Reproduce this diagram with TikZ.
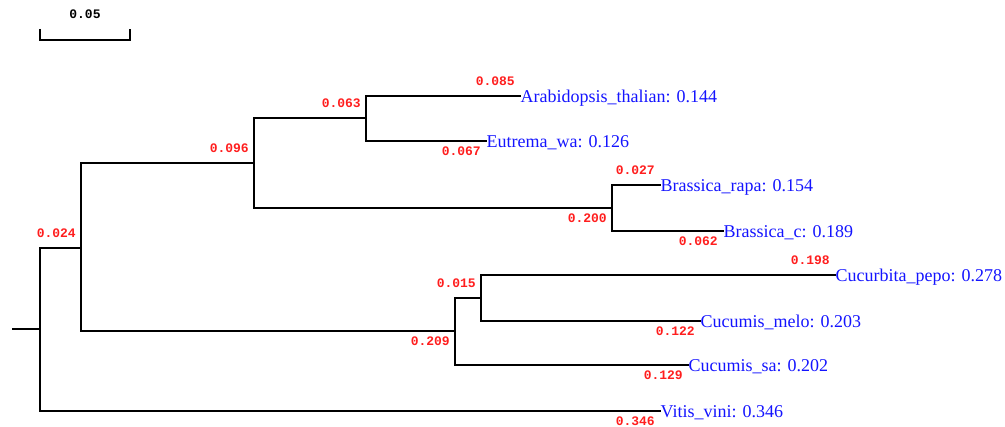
\documentclass[tikz,border=0pt]{standalone}
\usepackage{fontspec}
\setmainfont{Liberation Serif}
\newfontfamily\lenfont{Liberation Mono}
\definecolor{lenred}{RGB}{255,30,30}
\definecolor{leafblue}{RGB}{20,20,255}
\tikzset{
  branch/.style={draw=black, line width=2.4pt, line cap=rect, line join=miter},
  lenabove/.style={anchor=base east, inner sep=0pt, xshift=-4pt, yshift=10pt,
    text=lenred, font=\lenfont\bfseries\fontsize{13}{13}\selectfont},
  lenbelow/.style={anchor=base east, inner sep=0pt, xshift=-4pt, yshift=-15pt,
    text=lenred, font=\lenfont\bfseries\fontsize{13}{13}\selectfont},
  leaflabel/.style={anchor=base west, inner sep=0pt, xshift=0.5pt, yshift=-6.5pt,
    text=leafblue, font=\fontsize{18}{18}\selectfont},
}
\begin{document}
\begin{tikzpicture}[x=1pt, y=-1pt]
\useasboundingbox (0,0) rectangle (1005,427);
% scale bar
\coordinate (sbl) at (40,40);
\coordinate (sbr) at (130,40);
\draw[line width=2.8pt, line join=miter] ([yshift=11pt]sbl) -- (sbl) -- (sbr) -- ([yshift=11pt]sbr);
\node[anchor=base, inner sep=0pt, font=\lenfont\bfseries\fontsize{13}{13}\selectfont] (sblab) at (85,19) {0.05};
% internal nodes
\coordinate (stub) at (13,329);
\coordinate (R) at (40,329);
\coordinate (A) at (81,248);
\coordinate (B) at (254,163);
\coordinate (C) at (366,118);
\coordinate (D) at (612,208);
\coordinate (E) at (455,331);
\coordinate (F) at (481,298);
% leaf tips
\coordinate (arab) at (520,96);
\coordinate (eut) at (486,141);
\coordinate (brap) at (660,185);
\coordinate (brc) at (723,231);
\coordinate (cuc) at (835,275);
\coordinate (melo) at (700,321);
\coordinate (sa) at (688,365);
\coordinate (vitis) at (660,411);
% branches
\draw[branch] (stub) -- (R);
\draw[branch] (R) |- (A) node[lenabove] {0.024};
\draw[branch] (R) |- (vitis) node[lenbelow] {0.346};
\draw[branch] (A) |- (B) node[lenabove] {0.096};
\draw[branch] (A) |- (E) node[lenbelow] {0.209};
\draw[branch] (B) |- (C) node[lenabove] {0.063};
\draw[branch] (B) |- (D) node[lenbelow] {0.200};
\draw[branch] (C) |- (arab) node[lenabove] {0.085};
\draw[branch] (C) |- (eut) node[lenbelow] {0.067};
\draw[branch] (D) |- (brap) node[lenabove] {0.027};
\draw[branch] (D) |- (brc) node[lenbelow] {0.062};
\draw[branch] (E) |- (F) node[lenabove] {0.015};
\draw[branch] (E) |- (sa) node[lenbelow] {0.129};
\draw[branch] (F) |- (cuc) node[lenabove] {0.198};
\draw[branch] (F) |- (melo) node[lenbelow] {0.122};
% leaf labels
\node[leaflabel] (larab) at (arab) {Arabidopsis\_thalian: 0.144};
\node[leaflabel] (leut) at (eut) {Eutrema\_wa: 0.126};
\node[leaflabel] (lbrap) at (brap) {Brassica\_rapa: 0.154};
\node[leaflabel] (lbrc) at (brc) {Brassica\_c: 0.189};
\node[leaflabel] (lcuc) at (cuc) {Cucurbita\_pepo: 0.278};
\node[leaflabel] (lmelo) at (melo) {Cucumis\_melo: 0.203};
\node[leaflabel] (lsa) at (sa) {Cucumis\_sa: 0.202};
\node[leaflabel] (lvitis) at (vitis) {Vitis\_vini: 0.346};
\end{tikzpicture}
\end{document}
